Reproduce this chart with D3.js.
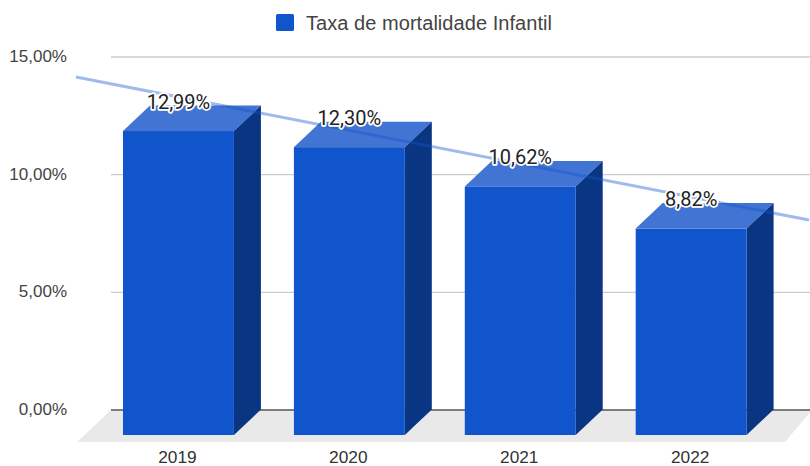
<!DOCTYPE html>
<html><head><meta charset="utf-8">
<script src="https://cdnjs.cloudflare.com/ajax/libs/d3/7.8.5/d3.min.js"></script>
<style>html,body{margin:0;background:#fff}svg{display:block}</style></head>
<body><svg id="c" width="810" height="466"></svg>
<script>
const categories = ["2019","2020","2021","2022"];
const values = [12.99,12.30,10.62,8.82];
const valueLabels = ["12,99%","12,30%","10,62%","8,82%"];
const yTicks = [0,5,10,15];
const yTickLabels = ["0,00%","5,00%","10,00%","15,00%"];
const seriesName = "Taxa de mortalidade Infantil";
const trendIndex = [-0.6,3.69];
const trendValues = [14.13,8.05];

const svg = d3.select("#c");
const depthX = 27, depthY = 25.5;
const y = d3.scaleLinear().domain([0,15]).range([409.5,56.5]);
const barY = d3.scaleLinear().domain([0,15]).range([435,84]);
const x = d3.scaleBand().domain(categories).range([93,776.6]).paddingInner(0.351).paddingOuter(0.1755);
const trendX = d3.scaleLinear().domain([0,3]).range([x("2019")+x.bandwidth()/2, x("2022")+x.bandwidth()/2]);
const font = "'Liberation Sans',Arial,sans-serif";
const pts = a => a.map(p=>p.join(",")).join(" ");

// floor
svg.append("polygon").attr("points",pts([[111,410],[812,410],[785,442],[77,442]])).attr("fill","#e9e9e9");

// grid + axis
const gridG = svg.append("g").attr("transform","translate(111,0)");
gridG.call(d3.axisRight(y).tickValues(yTicks).tickSize(699).tickFormat(""))
  .call(g=>g.select(".domain").remove())
  .call(g=>g.selectAll("line").attr("stroke",d=>d===0?"#555":"#ccc").attr("stroke-width",1.3));

// y tick labels
svg.append("g").selectAll("text").data(yTicks).join("text")
  .attr("x",67).attr("y",d=>y(d)).attr("dy","0.33em").attr("text-anchor","end")
  .attr("font-family",font).attr("font-size",17).attr("fill","#444")
  .text((d,i)=>yTickLabels[i]);

// bars
const bars = svg.append("g").selectAll("g").data(categories).join("g");
const w = x.bandwidth();
bars.append("polygon").attr("fill","#4274d3").attr("points",(c,i)=>{
  const X=x(c),T=barY(values[i]);
  return pts([[X,T],[X+w,T],[X+w+depthX,T-depthY],[X+depthX,T-depthY]]);});
bars.append("polygon").attr("fill","#0a3583").attr("points",(c,i)=>{
  const X=x(c)+w,T=barY(values[i]),B=barY(0);
  return pts([[X,T],[X+depthX,T-depthY],[X+depthX,B-depthY],[X,B]]);});
bars.append("rect").attr("fill","#1155cc").attr("x",c=>x(c)).attr("width",w)
  .attr("y",(c,i)=>barY(values[i])).attr("height",(c,i)=>barY(0)-barY(values[i]));

// trend line
svg.append("path").datum(trendIndex.map((t,i)=>[t,trendValues[i]]))
  .attr("d",d3.line().x(d=>trendX(d[0])).y(d=>y(d[1])))
  .attr("fill","none").attr("stroke","#1155cc").attr("stroke-opacity",0.4).attr("stroke-width",3);

// value labels
svg.append("g").selectAll("text").data(categories).join("text")
  .attr("x",c=>x(c)+w/2).attr("y",(c,i)=>barY(values[i])-depthY+3)
  .attr("text-anchor","middle").attr("font-family","Roboto,sans-serif").attr("font-size",20)
  .attr("fill","#222").attr("stroke","#fff").attr("stroke-width",3.5).attr("stroke-linejoin","round")
  .attr("paint-order","stroke").text((c,i)=>valueLabels[i]);

// x labels
svg.append("g").selectAll("text").data(categories).join("text")
  .attr("x",c=>x(c)+w/2-1).attr("y",463).attr("text-anchor","middle")
  .attr("font-family",font).attr("font-size",17.3).attr("fill","#333").text(c=>c);

// legend
svg.append("rect").attr("x",276).attr("y",14).attr("width",18).attr("height",17).attr("rx",1.5).attr("fill","#1155cc");
svg.append("text").attr("x",306).attr("y",29.5).attr("font-family",font).attr("font-size",20)
  .attr("letter-spacing",0.05).attr("fill","#444").text(seriesName);
</script></body></html>
